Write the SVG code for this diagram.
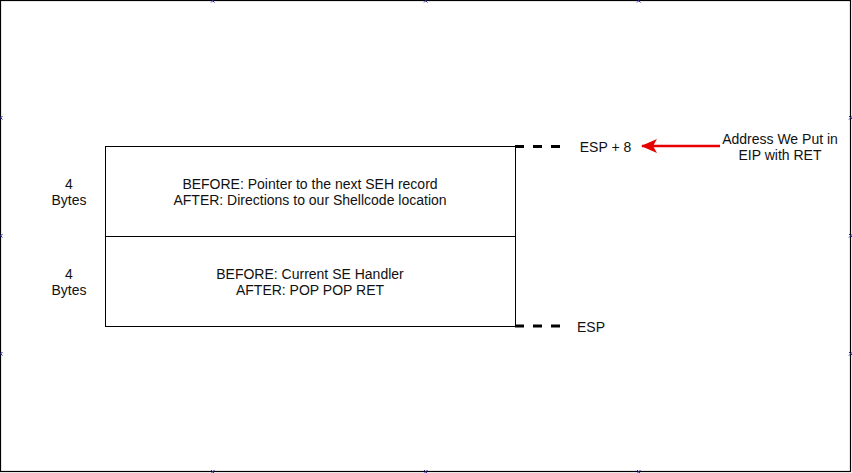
<svg xmlns="http://www.w3.org/2000/svg" width="852" height="473" viewBox="0 0 852 473">
<defs>
<style>
text{font-family:"Liberation Sans",Arial,sans-serif;font-size:14px;fill:#111;text-anchor:middle}
.box{fill:#fff;stroke:#000;stroke-width:1}
.dash{stroke:#000;stroke-width:3;stroke-dasharray:9 9;fill:none}
.mk{stroke:#2a2a9a;stroke-width:1;fill:none}
</style>
<marker id="ah" viewBox="0 0 16 14" refX="15" refY="7" markerWidth="16" markerHeight="14" markerUnits="userSpaceOnUse" orient="auto">
<path d="M16,7 L0,0 L4,7 L0,14 Z" fill="#e60000"/>
</marker>
</defs>
<rect id="frame" x="0.5" y="0.5" width="850" height="471" fill="#fff" stroke="#000" stroke-width="1.2"/>
<g id="markers">
<path class="mk" d="M211,-1 l3.5,3.5 M214.5,-1 l-3.5,3.5 M424,-1 l3.5,3.5 M427.5,-1 l-3.5,3.5 M637,-1 l3.5,3.5 M640.5,-1 l-3.5,3.5"/>
<path class="mk" d="M211,470 l3.5,3.5 M214.5,470 l-3.5,3.5 M424,470 l3.5,3.5 M427.5,470 l-3.5,3.5 M637,470 l3.5,3.5 M640.5,470 l-3.5,3.5"/>
<path class="mk" d="M-1,116 l3.5,3.5 M2.5,116 l-3.5,3.5 M-1,234 l3.5,3.5 M2.5,234 l-3.5,3.5 M-1,352 l3.5,3.5 M2.5,352 l-3.5,3.5"/>
<path class="mk" d="M849,116 l3.5,3.5 M852.5,116 l-3.5,3.5 M849,234 l3.5,3.5 M852.5,234 l-3.5,3.5 M849,352 l3.5,3.5 M852.5,352 l-3.5,3.5"/>
</g>
<g id="seh-next">
<rect class="box" x="105.5" y="146.5" width="410" height="90"/>
<text x="310" y="189">BEFORE: Pointer to the next SEH record</text>
<text x="310" y="205">AFTER: Directions to our Shellcode location</text>
</g>
<g id="seh-handler">
<rect class="box" x="105.5" y="236.5" width="410" height="90"/>
<text x="310" y="279">BEFORE: Current SE Handler</text>
<text x="310" y="295">AFTER: POP POP RET</text>
</g>
<g id="size1">
<text x="69" y="189">4</text>
<text x="69" y="205">Bytes</text>
</g>
<g id="size2">
<text x="69" y="279">4</text>
<text x="69" y="295">Bytes</text>
</g>
<g id="esp8">
<text x="605.5" y="152">ESP + 8</text>
</g>
<g id="esp">
<text x="591" y="332">ESP</text>
</g>
<g id="note">
<text x="780" y="144">Address We Put in</text>
<text x="780" y="160">EIP with RET</text>
</g>
<g id="connectors">
<line class="dash" x1="515" y1="146.5" x2="561" y2="146.5"/>
<line class="dash" x1="515" y1="326" x2="561" y2="326"/>
<line x1="720" y1="146" x2="642" y2="146" stroke="#e60000" stroke-width="2.5" marker-end="url(#ah)"/>
</g>
</svg>
